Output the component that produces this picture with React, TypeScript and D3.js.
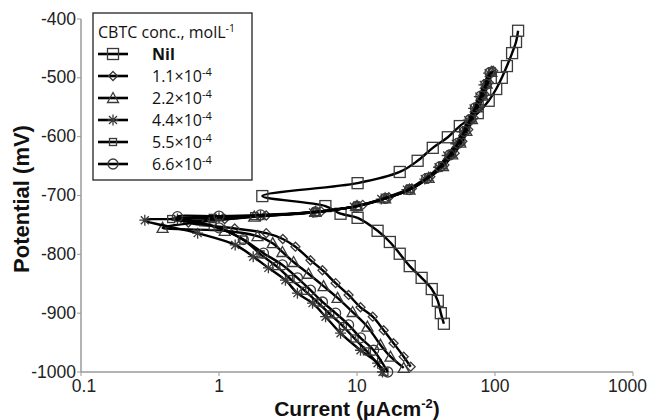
import React from 'react';
import * as d3 from 'd3';

// Tafel curves, current in uA/cm2, potential in mV
const nilI = [147, 142, 133, 122, 112, 102, 90, 75, 55.6, 45.5, 35.4, 27.5, 20.4, 10.1, 2.06, 5.9, 7.6, 10.1, 14.1, 17.3, 20.4, 24.1, 29.4, 34.8, 38.5, 40.5, 42.6];
const nilE = [-420, -439, -458, -480, -500, -519, -539, -560, -582, -601, -619, -641, -660, -679, -701, -718, -731, -738, -760, -779, -799, -820, -840, -859, -879, -900, -918];

const c11I = [97, 90, 84, 77, 70, 64, 58, 51, 43, 34, 25, 17, 11, 5.5, 2.2, 1.1, 0.6, 1.3, 2.2, 2.9, 3.58, 4.6, 5.62, 7.0, 8.69, 10.6, 13.0, 15.6, 18.4, 21.8, 24.5];
const c11E = [-488, -508, -528, -548, -568, -588, -608, -628, -648, -668, -688, -703, -716, -727, -734, -740, -746, -756, -764, -774, -787, -810, -827, -849, -869, -890, -906, -929, -951, -974, -991];

const c22I = [94, 87, 81, 74, 68, 62, 56, 49, 42, 33, 24, 16, 10, 5, 1.8, 0.8, 0.39, 1.1, 1.9, 2.45, 2.88, 3.47, 4.45, 5.72, 7.23, 9.29, 11.9, 14.8, 17.5, 21.8];
const c22E = [-490, -510, -530, -550, -570, -590, -610, -630, -650, -670, -690, -705, -718, -728, -736, -744, -755, -760, -769, -781, -796, -813, -833, -854, -874, -898, -923, -954, -974, -993];

const c44I = [90, 83, 77, 70, 64, 58, 52, 45, 39, 31, 23, 15, 9.5, 4.8, 2.0, 1.0, 0.5, 0.29, 0.7, 1.31, 1.77, 2.28, 3.03, 3.7, 4.76, 5.92, 7.6, 10.6, 14.1, 15.3];
const c44E = [-492, -512, -532, -552, -572, -592, -612, -632, -652, -672, -690, -706, -719, -729, -735, -738, -740, -742, -764, -784, -804, -823, -844, -866, -883, -906, -934, -963, -985, -1000];

const c55I = [95, 88, 82, 75, 68, 62, 57, 49, 42, 33, 24, 16, 10, 5, 1.8, 0.9, 0.45, 0.9, 1.5, 2.0, 2.6, 3.3, 4.2, 5.2, 6.4, 7.9, 9.6, 11.8, 15.8];
const c55E = [-489, -509, -529, -549, -569, -589, -609, -629, -649, -669, -689, -705, -718, -728, -735, -738, -740, -752, -775, -800, -820, -842, -862, -882, -902, -922, -943, -965, -1000];

const c66I = [92, 86, 79, 72, 66, 60, 54, 47, 40, 32, 24, 16, 10, 5, 2.0, 1.0, 0.5, 1.0, 1.5, 2.1, 2.88, 3.7, 4.6, 5.62, 7.0, 8.69, 10.6, 13.2, 16.7];
const c66E = [-491, -511, -531, -551, -571, -591, -611, -631, -651, -671, -690, -705, -718, -728, -733, -735, -736, -755, -775, -798, -818, -840, -861, -881, -900, -920, -942, -963, -1000];

const xTicks = [0.1, 1, 10, 100, 1000];
const yTicks = [-400, -500, -600, -700, -800, -900, -1000];

type Marker = 'bigSquare' | 'diamond' | 'triangle' | 'star' | 'square' | 'circle';

const series: { label: string; exp?: string; bold?: boolean; xs: number[]; ys: number[]; marker: Marker }[] = [
  { label: 'Nil', bold: true, xs: nilI, ys: nilE, marker: 'bigSquare' },
  { label: '1.1×10', exp: '-4', xs: c11I, ys: c11E, marker: 'diamond' },
  { label: '2.2×10', exp: '-4', xs: c22I, ys: c22E, marker: 'triangle' },
  { label: '4.4×10', exp: '-4', xs: c44I, ys: c44E, marker: 'star' },
  { label: '5.5×10', exp: '-4', xs: c55I, ys: c55E, marker: 'square' },
  { label: '6.6×10', exp: '-4', xs: c66I, ys: c66E, marker: 'circle' },
];

const MarkerShape: React.FC<{ kind: Marker; x: number; y: number }> = ({ kind, x, y }) => {
  const st = { fill: 'none', stroke: '#3a3a3a', strokeWidth: 1.3 };
  switch (kind) {
    case 'bigSquare':
      return <rect x={x - 5.5} y={y - 5.5} width={11} height={11} {...st} />;
    case 'square':
      return <rect x={x - 3.5} y={y - 3.5} width={7} height={7} {...st} />;
    case 'diamond':
      return <path d={`M${x},${y - 4.5}L${x + 4.5},${y}L${x},${y + 4.5}L${x - 4.5},${y}Z`} {...st} />;
    case 'triangle':
      return <path d={`M${x},${y - 5.5}L${x + 5.5},${y + 4.5}L${x - 5.5},${y + 4.5}Z`} {...st} />;
    case 'circle':
      return <circle cx={x} cy={y} r={5} {...st} />;
    case 'star':
      return (
        <path
          d={`M${x - 5.5},${y}L${x + 5.5},${y}M${x - 4},${y - 4}L${x + 4},${y + 4}M${x - 4},${y + 4}L${x + 4},${y - 4}M${x},${y - 5.5}L${x},${y + 5.5}`}
          {...st}
        />
      );
  }
};

const App: React.FC = () => {
  const width = 650;
  const height = 420;
  const x = d3.scaleLog().domain([0.1, 1000]).range([81, 633]);
  const y = d3.scaleLinear().domain([-1000, -400]).range([372, 19]);

  const line = d3.line<[number, number]>()
    .x(d => x(d[0]))
    .y(d => y(d[1]))
    .curve(d3.curveCatmullRom.alpha(0.5));

  const axisColor = '#9a9a9a';
  const tickFont = { fontFamily: 'Liberation Sans, Arial, sans-serif', fontSize: 17.5, fill: '#222' };
  const legFont = { fontFamily: 'Open Sans, sans-serif', fontSize: 16, fill: '#111' };

  return (
    <svg width={width} height={height} style={{ position: 'absolute', left: 0, top: 0, background: 'white' }}>
      <rect width={width} height={height} fill="white" />

      {/* axes */}
      <line x1={81} x2={81} y1={19} y2={372} stroke={axisColor} strokeWidth={1.5} />
      <line x1={81} x2={633} y1={372} y2={372} stroke={axisColor} strokeWidth={1.5} />
      {yTicks.map(t => (
        <g key={t}>
          <line x1={77} x2={81} y1={y(t)} y2={y(t)} stroke={axisColor} strokeWidth={1} />
          <text x={76} y={y(t) + 5.5} textAnchor="end" {...tickFont}>{t}</text>
        </g>
      ))}
      {xTicks.map((t, i) => {
        const last = i === xTicks.length - 1;
        return (
          <g key={t}>
            <line x1={x(t)} x2={x(t)} y1={372} y2={376} stroke={axisColor} strokeWidth={1} />
            <text x={last ? 647 : x(t) + (i === 0 ? 3 : 0)} y={392} textAnchor={last ? 'end' : 'middle'} {...tickFont}>{t}</text>
          </g>
        );
      })}

      <text
        transform="translate(29,199) rotate(-90)"
        textAnchor="middle"
        fontFamily="Liberation Sans, Arial, sans-serif"
        fontWeight="bold"
        fontSize={22}
        fill="#111"
      >
        Potential (mV)
      </text>
      <text x={357} y={416} textAnchor="middle" fontFamily="Liberation Sans, Arial, sans-serif" fontWeight="bold" fontSize={21} fill="#111">
        Current (μAcm<tspan dy={-8} fontSize={13}>-2</tspan><tspan dy={8}>)</tspan>
      </text>

      {/* curves */}
      {series.map(s => {
        const pts = s.xs.map((v, i) => [v, s.ys[i]] as [number, number]);
        return (
          <g key={s.label + s.marker}>
            <path d={line(pts) || ''} fill="none" stroke="#000" strokeWidth={2.4} />
            {pts.map((p, i) => (
              <MarkerShape key={i} kind={s.marker} x={x(p[0])} y={y(p[1])} />
            ))}
          </g>
        );
      })}

      {/* legend */}
      <rect x={93} y={13} width={159} height={167} fill="white" stroke="#222" strokeWidth={1.3} />
      <text x={98} y={38} {...legFont}>
        CBTC conc., molL<tspan dy={-6} fontSize={10.5}>-1</tspan>
      </text>
      {series.map((s, i) => {
        const ly = 54 + i * 22;
        return (
          <g key={'leg' + i}>
            <line x1={98} x2={128} y1={ly} y2={ly} stroke="#000" strokeWidth={2.6} />
            <MarkerShape kind={s.marker} x={113} y={ly} />
            <text x={152} y={ly + 6} {...legFont} fontWeight={s.bold ? 'bold' : 'normal'}>
              {s.label}
              {s.exp && <tspan dy={-6} fontSize={11}>{s.exp}</tspan>}
            </text>
          </g>
        );
      })}
    </svg>
  );
};

export default App;
